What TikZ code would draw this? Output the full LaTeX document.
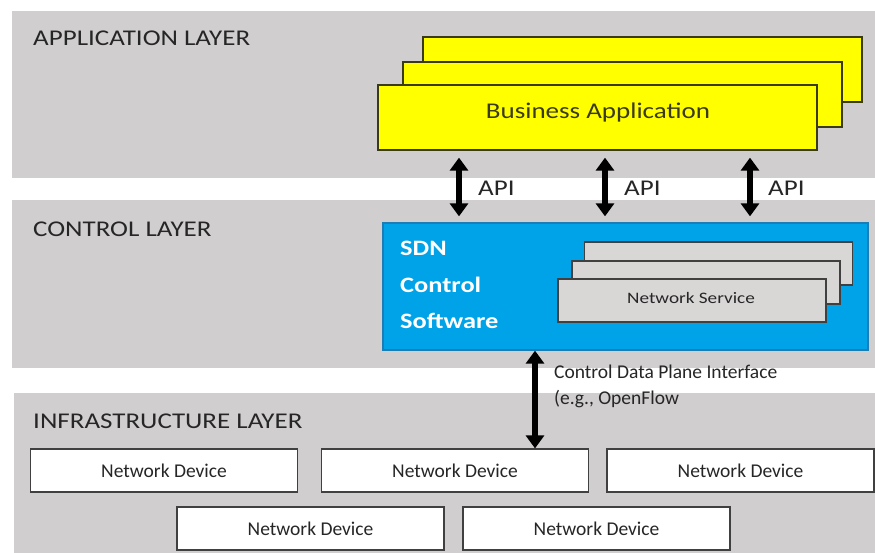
\documentclass[tikz,border=0pt]{standalone}
\usepackage{fontspec}
\setmainfont{Carlito}
\newfontfamily\widesans[FakeStretch=1.2]{Carlito}
\usetikzlibrary{arrows.meta}
\definecolor{bandgray}{HTML}{D0CECE}
\definecolor{appyellow}{HTML}{FFFF00}
\definecolor{yellowedge}{HTML}{3A3A14}
\definecolor{sdnblue}{HTML}{00A2E8}
\definecolor{sdnedge}{HTML}{1A7DB5}
\definecolor{svcgray}{HTML}{D9D6D6}
\definecolor{darkedge}{HTML}{404040}
\definecolor{labeltext}{HTML}{262626}

\begin{document}
\begin{tikzpicture}[x=1pt,y=-1pt,
  band/.style={fill=bandgray, draw=none},
  layerlabel/.style={anchor=base west, inner sep=0pt, text=labeltext, font=\widesans\fontsize{22.5}{27}\selectfont},
  appbox/.style={draw=yellowedge, line width=1.3pt, fill=appyellow, minimum width=439pt, minimum height=65pt, inner sep=0pt},
  svcbox/.style={draw=darkedge, line width=1.3pt, fill=svcgray, minimum width=268pt, minimum height=43pt, inner sep=0pt},
  devbox/.style={draw=darkedge, line width=1.2pt, fill=white, minimum width=267pt, minimum height=43pt, inner sep=0pt, text=labeltext, font=\fontsize{19.5}{23}\selectfont},
  bigarrow/.style={line width=6pt, {Triangle[width=18pt,length=13pt]}-{Triangle[width=18pt,length=13pt]}},
  apilabel/.style={anchor=base west, inner sep=0pt, text=labeltext, font=\widesans\fontsize{22.5}{27}\selectfont},
  iflabel/.style={anchor=base west, inner sep=0pt, text=labeltext, font=\fontsize{19.5}{23}\selectfont}
]
% canvas
\fill[white] (0,0) rectangle (875,553);
\path[use as bounding box] (0,0) rectangle (875,553);

% layer bands
\fill[band] (12,11) rectangle (875,178);
\fill[band] (12,200) rectangle (875,368);
\fill[band] (14,393) rectangle (875,553);

\node[layerlabel] (applbl) at (33,46) {APPLICATION LAYER};
\node[layerlabel] (ctllbl) at (33,236.5) {CONTROL LAYER};
\node[layerlabel] (inflbl) at (33,428) {INFRASTRUCTURE LAYER};

% stacked business applications
\node[appbox] (ba3) at (642.5,69.5) {};
\node[appbox] (ba2) at (622.5,94.5) {};
\node[appbox] (ba) at (597.5,117.5) {};
\node[anchor=base, inner sep=0pt, text=yellowedge, font=\widesans\fontsize{22.5}{27}\selectfont] (batxt) at (598,118.5) {Business Application};

% SDN controller
\node[draw=sdnedge, line width=1.3pt, fill=sdnblue, minimum width=485pt, minimum height=127pt, inner sep=0pt] (sdn) at (625.5,286.5) {};
\node[anchor=north west, inner sep=0pt, align=left, text=white, font=\widesans\bfseries\fontsize{22}{36.5}\selectfont] (sdntxt) at (400,241) {SDN\\Control\\Software};

% stacked network services
\node[svcbox] (ns3) at (718.5,263.5) {};
\node[svcbox] (ns2) at (706,282.5) {};
\node[svcbox] (ns) at (692,300.5) {};
\node[anchor=base, inner sep=0pt, text=labeltext, font=\widesans\fontsize{16}{19}\selectfont] (nstxt) at (691,303.5) {Network Service};

% network devices
\node[devbox] (d1) at (164,470.5) {Network Device};
\node[devbox] (d2) at (455,470.5) {Network Device};
\node[devbox] (d3) at (740.5,470.5) {Network Device};
\node[devbox] (d4) at (310.5,528.5) {Network Device};
\node[devbox] (d5) at (596.5,528.5) {Network Device};

% API arrows between application and controller
\coordinate (a1) at (459,0);
\coordinate (a2) at (605,0);
\coordinate (a3) at (750,0);
\draw[bigarrow, shorten <=7pt, shorten >=6pt] (ba.south -| a1) -- (sdn.north -| a1);
\draw[bigarrow, shorten <=7pt, shorten >=6pt] (ba.south -| a2) -- (sdn.north -| a2);
\draw[bigarrow, shorten <=7pt, shorten >=6pt] (ba.south -| a3) -- (sdn.north -| a3);
\node[apilabel] (api1) at (478,196) {API};
\node[apilabel] (api2) at (624,196) {API};
\node[apilabel] (api3) at (768,196) {API};

% southbound interface
\coordinate (cx) at (535,0);
\draw[bigarrow] (sdn.south -| cx) -- (d2.north -| cx);
\node[iflabel] (if1) at (554,378) {Control Data Plane Interface};
\node[iflabel] (if2) at (554,404) {(e.g., OpenFlow};
\end{tikzpicture}
\end{document}
